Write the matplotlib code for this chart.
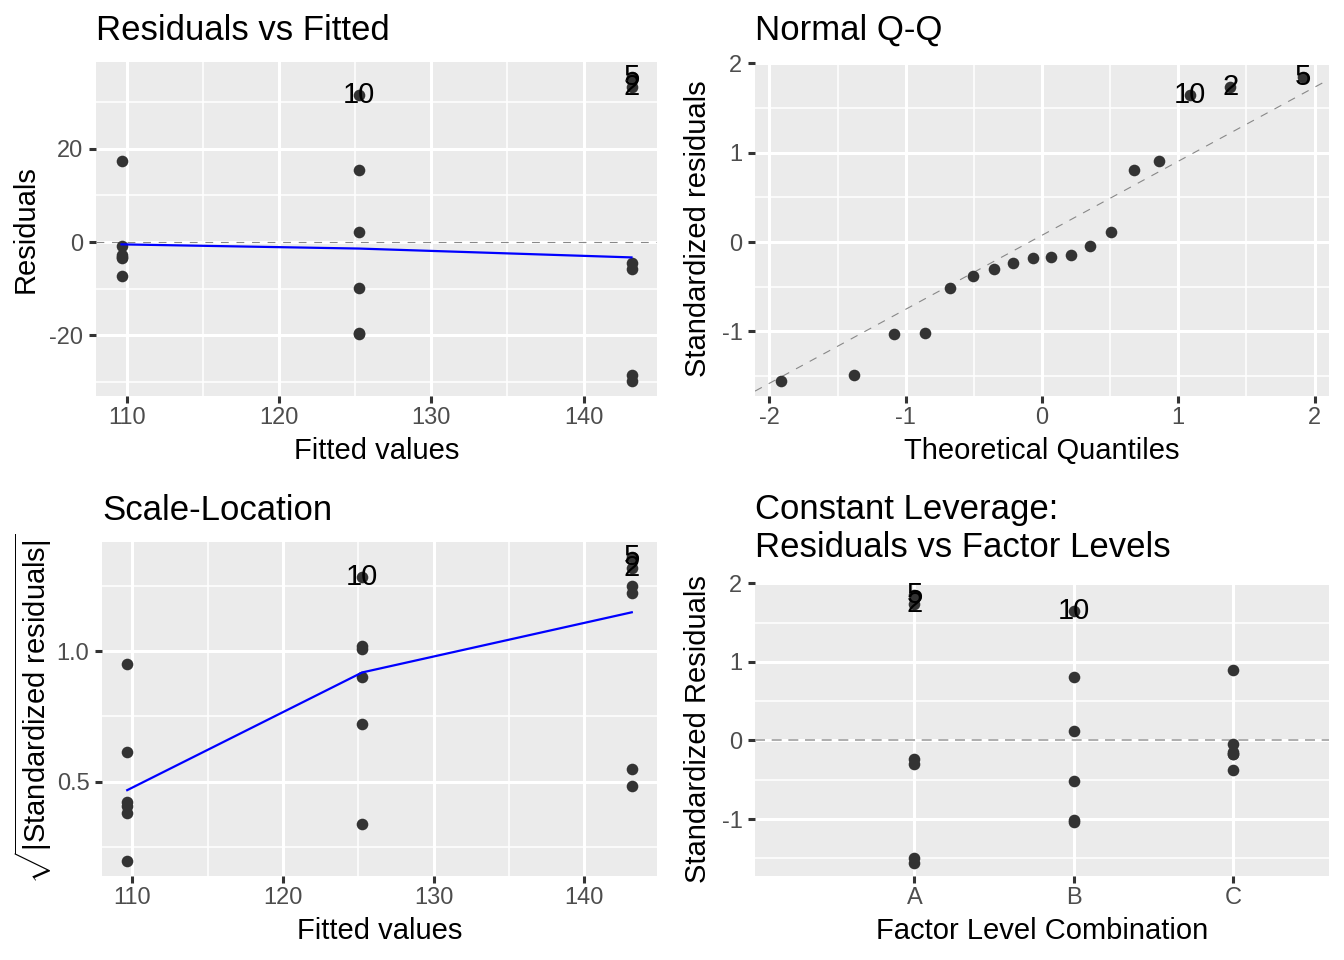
import numpy as np
import matplotlib
matplotlib.use("Agg")
import matplotlib.pyplot as plt
from matplotlib.ticker import FixedLocator, MultipleLocator, NullLocator
from statistics import NormalDist

W, H, DPI = 1344, 960, 100
FONT = "Liberation Sans"
C_PANEL = "#EBEBEB"
C_POINT = "#333333"
C_TICK = "#4D4D4D"
C_SMOOTH = "#0000FF"
C_AD = "#888888"

# one-way model: 3 factor levels, 6 observations each (obs 1-6 = A, 7-12 = B, 13-18 = C)
GROUPS = ["A"] * 6 + ["B"] * 6 + ["C"] * 6
LEVELS = ["A", "B", "C"]
GROUP_FIT = {"A": 143.15, "B": 125.25, "C": 109.65}
RESID = [-4.5, 33.3, -28.6, -5.8, 35.4, -29.8,
         15.5, -19.45, 2.2, 31.6, -9.95, -19.85,
         17.3, -0.75, -2.8, -3.2, -3.4, -7.2]
# smoother values at the three fitted levels (109.65, 125.25, 143.15)
SMOOTH_RESID = [-0.5, -1.4, -3.3]
SMOOTH_SCALE = [0.468, 0.918, 1.148]
N_LABEL = 3

FS_TITLE, FS_AXIS, FS_TICK, FS_LAB = 25, 21, 17, 21

plt.rcParams.update({
    "font.family": FONT,
    "axes.unicode_minus": False,
    "mathtext.fontset": "custom",
    "mathtext.rm": FONT,
    "mathtext.it": FONT + ":italic",
})

# ---- model quantities ------------------------------------------------------
resid = np.array(RESID)
fitted = np.array([GROUP_FIT[g] for g in GROUPS])
n = len(resid)
counts = {g: GROUPS.count(g) for g in LEVELS}
hat = np.array([1.0 / counts[g] for g in GROUPS])
sigma = np.sqrt(np.sum(resid ** 2) / (n - len(LEVELS)))
std = resid / (sigma * np.sqrt(1 - hat))
sq = np.sqrt(np.abs(std))
obs_id = np.arange(1, n + 1)
lab_idx = np.argsort(-np.abs(std))[:N_LABEL]

order = np.argsort(std)
nd = NormalDist()
theo = np.empty(n)
theo[order] = [nd.inv_cdf((i - 0.5) / n) for i in range(1, n + 1)]
q1, q3 = np.quantile(std, [0.25, 0.75])
z1, z3 = nd.inv_cdf(0.25), nd.inv_cdf(0.75)
qq_slope = (q3 - q1) / (z3 - z1)
qq_int = q1 - qq_slope * z1

xfac = np.array([LEVELS.index(g) + 1 for g in GROUPS])
sm_x = sorted(GROUP_FIT.values())


def expand(v, k=0.05):
    lo, hi = float(np.min(v)), float(np.max(v))
    d = (hi - lo) * k
    return lo - d, hi + d


fig = plt.figure(figsize=(W / DPI, H / DPI), dpi=DPI, facecolor="white")


def panel(l, t, r, b):
    ax = fig.add_axes([l / W, 1 - b / H, (r - l) / W, (b - t) / H])
    ax.set_facecolor(C_PANEL)
    for sp in ax.spines.values():
        sp.set_visible(False)
    ax.set_axisbelow(True)
    ax.grid(True, which="major", color="white", lw=2.2)
    ax.grid(True, which="minor", color="white", lw=1.1)
    ax.tick_params(which="major", length=5, width=2.2, color="#333333",
                   labelcolor=C_TICK, labelsize=FS_TICK)
    ax.tick_params(axis="x", pad=3)
    ax.tick_params(axis="y", pad=4)
    ax.tick_params(which="minor", length=0)
    return ax


def ftxt(x, y, s, **kw):
    fig.text(x / W, 1 - y / H, s, **kw)


def labels(ax, xs, ys):
    for i in lab_idx:
        ax.text(xs[i], ys[i], str(obs_id[i]), ha="center", va="center",
                fontsize=FS_LAB, color="black", zorder=5)


# ---- Residuals vs Fitted ---------------------------------------------------
ax1 = panel(96, 62, 657, 396)
ax1.axhline(0, color=C_AD, lw=0.8, ls=(0, (7, 7)), zorder=2)
ax1.scatter(fitted, resid, s=70, color=C_POINT, lw=0, zorder=3)
ax1.plot(sm_x, SMOOTH_RESID, color=C_SMOOTH, lw=1.6, zorder=4)
labels(ax1, fitted, resid)
ax1.set_xlim(expand(fitted)); ax1.set_ylim(expand(resid))
ax1.xaxis.set_major_locator(MultipleLocator(10))
ax1.xaxis.set_minor_locator(MultipleLocator(5))
ax1.yaxis.set_major_locator(MultipleLocator(20))
ax1.yaxis.set_minor_locator(FixedLocator([-30, -10, 10, 30]))

# ---- Normal Q-Q ------------------------------------------------------------
ax2 = panel(755, 62, 1329, 396)
ax2.axline((0, qq_int), slope=qq_slope, color=C_AD, lw=0.8,
           ls=(0, (7, 7)), zorder=2)
ax2.scatter(theo, std, s=70, color=C_POINT, lw=0, zorder=3)
labels(ax2, theo, std)
ax2.set_xlim(expand(theo)); ax2.set_ylim(expand(std))
ax2.xaxis.set_major_locator(MultipleLocator(1))
ax2.xaxis.set_minor_locator(MultipleLocator(0.5))
ax2.yaxis.set_major_locator(MultipleLocator(1))
ax2.yaxis.set_minor_locator(MultipleLocator(0.5))

# ---- Scale-Location --------------------------------------------------------
ax3 = panel(102, 542, 657, 876)
ax3.scatter(fitted, sq, s=70, color=C_POINT, lw=0, zorder=3)
ax3.plot(sm_x, SMOOTH_SCALE, color=C_SMOOTH, lw=1.6, zorder=4)
labels(ax3, fitted, sq)
ax3.set_xlim(expand(fitted)); ax3.set_ylim(expand(sq))
ax3.xaxis.set_major_locator(MultipleLocator(10))
ax3.xaxis.set_minor_locator(MultipleLocator(5))
ax3.yaxis.set_major_locator(MultipleLocator(0.5))
ax3.yaxis.set_minor_locator(MultipleLocator(0.25))
ax3.yaxis.set_major_formatter(lambda v, p: f"{v:.1f}")

# ---- Constant Leverage -----------------------------------------------------
ax4 = panel(755, 582, 1329, 876)
ax4.axhline(0, color="#A0A0A0", lw=1.2, ls=(0, (6, 4)), zorder=2)
ax4.scatter(xfac, std, s=70, color=C_POINT, lw=0, zorder=3)
labels(ax4, xfac, std)
ax4.set_xlim(0.0, len(LEVELS) + 0.6); ax4.set_ylim(expand(std))
ax4.set_xticks(range(1, len(LEVELS) + 1))
ax4.set_xticklabels(LEVELS)
ax4.xaxis.set_minor_locator(NullLocator())
ax4.yaxis.set_major_locator(MultipleLocator(1))
ax4.yaxis.set_minor_locator(MultipleLocator(0.5))

# ---- titles and axis titles ------------------------------------------------
tkw = dict(fontsize=FS_TITLE, color="black", ha="left", va="baseline")
ftxt(96, 40, "Residuals vs Fitted", **tkw)
ftxt(755, 40, "Normal Q-Q", **tkw)
ftxt(102, 520, "Scale-Location", **tkw)
ftxt(755, 519, "Constant Leverage:", **tkw)
ftxt(755, 557, "Residuals vs Factor Levels", **tkw)

xkw = dict(fontsize=FS_AXIS, color="black", ha="center", va="baseline")
ftxt(376.5, 459, "Fitted values", **xkw)
ftxt(1042, 459, "Theoretical Quantiles", **xkw)
ftxt(379.5, 939, "Fitted values", **xkw)
ftxt(1042, 939, "Factor Level Combination", **xkw)

ykw = dict(fontsize=FS_AXIS, color="black", ha="center", va="center", rotation=90)
ftxt(26, 229, "Residuals", **ykw)
ftxt(698, 229, "Standardized residuals", **ykw)
ftxt(33, 709, r"$\sqrt{|\mathrm{Standardized\ residuals}|}$", **ykw)
ftxt(698, 729, "Standardized Residuals", **ykw)

fig.savefig("out.png", dpi=DPI, facecolor="white")
